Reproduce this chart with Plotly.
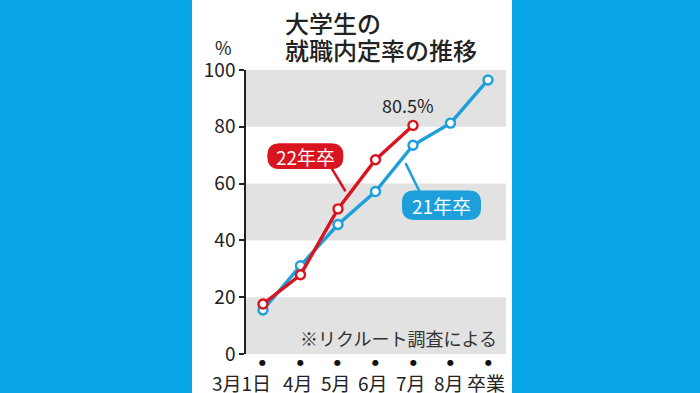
import plotly.graph_objects as go

categories = ["3月1日", "4月", "5月", "6月", "7月", "8月", "卒業"]
y21 = [15.5, 31.1, 45.6, 57.2, 73.5, 81.3, 96.5]
y22 = [17.6, 27.9, 51.1, 68.4, 80.5]
y_ticks = [0, 20, 40, 60, 80, 100]

BLUE_BG = "#08a5e6"
RED = "#d8141e"
BLUE = "#1c9fdb"
GRAY = "#e2e2e2"
FONT = "Noto Sans CJK JP"

xs = list(range(len(categories)))

fig = go.Figure()

fig.add_trace(go.Scatter(x=xs, y=y21, mode="lines+markers",
                         line=dict(color=BLUE, width=3.4),
                         marker=dict(size=9, color="white", line=dict(color=BLUE, width=2.4)),
                         cliponaxis=False, showlegend=False))
fig.add_trace(go.Scatter(x=xs[:len(y22)], y=y22, mode="lines+markers",
                         line=dict(color=RED, width=3.4),
                         marker=dict(size=9, color="white", line=dict(color=RED, width=2.4)),
                         cliponaxis=False, showlegend=False))

shapes = []
# white panel
shapes.append(dict(type="rect", xref="paper", yref="paper",
                   x0=(192 - 246) / 260, x1=(512 - 246) / 260,
                   y0=(354 - 400) / 284, y1=(354 + 5) / 284,
                   fillcolor="white", line=dict(width=0), layer="below"))
for lo, hi in [(0, 20), (40, 60), (80, 100)]:
    shapes.append(dict(type="rect", xref="paper", yref="y", x0=0, x1=1, y0=lo, y1=hi,
                       fillcolor=GRAY, line=dict(width=0), layer="below"))


def rounded(x0, x1, y0, y1, rx, ry):
    return (f"M{x0+rx},{y1} L{x1-rx},{y1} Q{x1},{y1} {x1},{y1-ry} L{x1},{y0+ry} "
            f"Q{x1},{y0} {x1-rx},{y0} L{x0+rx},{y0} Q{x0},{y0} {x0},{y0+ry} "
            f"L{x0},{y1-ry} Q{x0},{y1} {x0+rx},{y1} Z")


rx, ry = 0.3, 3.9
# pointers
shapes.append(dict(type="line", xref="x", yref="y", x0=1.78, y0=66.5, x1=2.2, y1=57.3,
                   line=dict(color=RED, width=2.5)))
shapes.append(dict(type="line", xref="x", yref="y", x0=4.2, y0=56.5, x1=3.8, y1=67.2,
                   line=dict(color=BLUE, width=2.5)))
shapes.append(dict(type="path", xref="x", yref="y", path=rounded(0.13, 2.13, 65.3, 74.0, rx, ry),
                   fillcolor=RED, line=dict(color=RED, width=1)))
shapes.append(dict(type="path", xref="x", yref="y", path=rounded(3.72, 5.8, 47.4, 57.4, rx, ry),
                   fillcolor=BLUE, line=dict(color=BLUE, width=1)))

annotations = [
    dict(text="大学生の", xref="paper", yref="paper", x=(283 - 246) / 260, y=(354 - 3) / 284,
         xanchor="left", yanchor="top", showarrow=False,
         font=dict(family=FONT, size=24, color="#222", weight=500)),
    dict(text="就職内定率の推移", xref="paper", yref="paper", x=(283 - 246) / 260, y=(354 - 30) / 284,
         xanchor="left", yanchor="top", showarrow=False,
         font=dict(family=FONT, size=24, color="#222", weight=500)),
    dict(text="%", xref="paper", yref="paper", x=(223 - 246) / 260, y=(354 - 47) / 284,
         xanchor="center", yanchor="middle", showarrow=False,
         font=dict(family=FONT, size=18, color="#222")),
    dict(text="80.5%", x=4, y=80.5, xref="x", yref="y", xshift=-5, yshift=20,
         xanchor="center", yanchor="middle", showarrow=False,
         font=dict(family=FONT, size=18, color="#222")),
    dict(text="22年卒", x=1.13, y=69.6, xref="x", yref="y", showarrow=False,
         xanchor="center", yanchor="middle", font=dict(family=FONT, size=19, color="white")),
    dict(text="21年卒", x=4.76, y=52.4, xref="x", yref="y", showarrow=False,
         xanchor="center", yanchor="middle", font=dict(family=FONT, size=19, color="white")),
    dict(text="※リクルート調査による", xref="paper", yref="y", x=(499 - 246) / 260, y=5.6,
         xanchor="right", yanchor="middle", showarrow=False,
         font=dict(family=FONT, size=18, color="#333")),
]
# category labels and dots
for i, c in enumerate(categories):
    annotations.append(dict(text="●", x=i, y=0, xref="x", yref="y", showarrow=False,
                            xanchor="center", yanchor="middle", yshift=-8,
                            font=dict(family="DejaVu Sans", size=8, color="#111")))
    annotations.append(dict(text=c, x=i, y=0, xref="x", yref="y", showarrow=False,
                            xanchor="right" if i == 0 else "center", yanchor="middle",
                            xshift=10 if i == 0 else -2, yshift=-28,
                            font=dict(family=FONT, size=19, color="#222")))

fig.update_layout(
    width=700, height=393,
    margin=dict(l=246, r=194, t=70, b=39, autoexpand=False),
    paper_bgcolor=BLUE_BG, plot_bgcolor="rgba(0,0,0,0)",
    shapes=shapes, annotations=annotations,
    font=dict(family=FONT, color="#222"),
    xaxis=dict(range=[-0.453, 6.48], tickvals=xs, showticklabels=False,
               showgrid=False, zeroline=False, showline=False, ticks="", automargin=False),
    yaxis=dict(range=[0, 100], tickvals=y_ticks, showgrid=False, zeroline=False,
               showline=True, linecolor="#222", linewidth=1.5,
               ticks="outside", ticklen=5, tickcolor="#222", tickwidth=1.5, automargin=False,
               tickfont=dict(family=FONT, size=19, color="#222")),
)

fig.write_html("out.html", config={"displayModeBar": False},
               post_script="document.body.style.margin='0';")
